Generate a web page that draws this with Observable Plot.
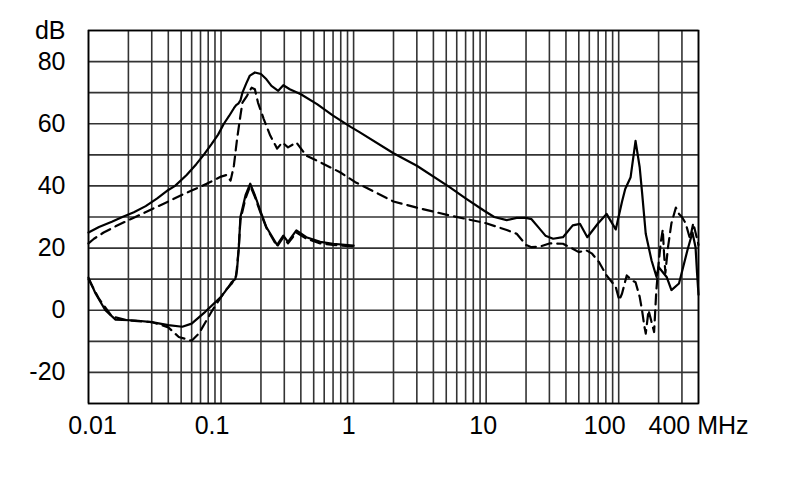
<!DOCTYPE html>
<html><head><meta charset="utf-8">
<script src="https://cdn.jsdelivr.net/npm/d3@7"></script>
<script src="https://cdn.jsdelivr.net/npm/@observablehq/plot@0.6"></script>
<style>body{margin:0;background:#fff} svg{display:block}</style>
</head><body><div id="chart"></div>
<script>
// Upper solid curve
const upperSolidFreq = [0.01,0.012,0.015,0.018,0.022,0.027,0.033,0.04,0.045,0.055,0.065,0.074,0.085,0.095,0.105,0.115,0.125,0.13,0.135,0.14,0.145,0.155,0.165,0.18,0.2,0.22,0.24,0.27,0.295,0.33,0.4,0.53,0.7,0.95,1.1,2,3,5.3,7,9.6,11.5,14.3,17,20,22,25,28,32,38,45,51,58,70,81,95,106,112,123,134,144,150,160,177,193,200,230,250,285,330,360,380,390,400];
const upperSolidDb   = [25,26.8,28.5,30,31.5,33.5,36,38.7,40,43.5,47,50,53.5,56.5,60,62.5,65,66,66.5,67.5,70,73,75.5,76.5,76,74.3,72.2,70.6,72.4,71.1,69.5,66.3,62.6,59,57.4,50.5,46.5,39.6,36,32.1,30,29,29.7,29.7,29.3,26.5,24,23,23.5,27.3,27.8,23.5,28,31,26,35,39,42.8,54.5,46,38,24.6,16,10.7,13.9,10.7,6.5,8.6,19.3,25,20.3,12,5];
// Upper dashed curve
const upperDashedFreq = [0.01,0.011,0.013,0.016,0.02,0.0226,0.03,0.04,0.05,0.06,0.072,0.085,0.1,0.11,0.118,0.125,0.132,0.14,0.145,0.157,0.17,0.18,0.19,0.21,0.235,0.265,0.29,0.32,0.37,0.44,0.56,0.79,1.03,2,3,5.3,10,14.3,17,20,22,25.6,30,38,45,50,57,63,71,81,95,101,106,115,126,134,144,150,156,160,168,175,185,192,200,208,215,220,225,235,250,270,285,300,320,345,365,385,400];
const upperDashedDb   = [21.5,23,25,27,29,30,32.5,35,37,38.5,40,41.5,43,43.5,41.7,46.5,55,62.6,66.8,69,71.6,71.1,66.8,61.5,56.2,52,54,52.4,54,49.7,47.6,44.4,41.2,35,33,30.5,28,25.8,24.6,21,20.3,20.5,21.5,21.4,19.8,18.7,19.3,18.2,15.5,11.2,7.5,3.2,5.4,11.2,9.6,9,4.3,0,-5,-7.5,0,-3,-7,6,15,22,26,18,12,20,28,33,31,30,28,23,28,24,21];
// Lower solid curve
const lowerSolidFreq = [0.01,0.0113,0.0134,0.016,0.0226,0.03,0.04,0.051,0.06,0.076,0.1,0.114,0.12,0.128,0.132,0.136,0.14,0.153,0.166,0.18,0.198,0.22,0.265,0.295,0.32,0.37,0.44,0.56,0.7,1];
const lowerSolidDb   = [10.5,5.4,0,-3,-3.3,-3.8,-4.8,-5.3,-4.3,-0.5,4.3,7.5,9,10,13,20,30,37,40.7,37,32,26.7,21,24,22,25.7,23.5,22,21.4,20.8];
// Lower dashed curve
const lowerDashedFreq = [0.01,0.012,0.015,0.02,0.03,0.04,0.048,0.06,0.068,0.086,0.108,0.12,0.13,0.136,0.14,0.153,0.166,0.18,0.198,0.22,0.265,0.295,0.32,0.37,0.44,0.56,0.7,1];
const lowerDashedDb   = [10,3.7,-2,-3.3,-3.8,-5.5,-8.6,-9.8,-7.5,0,6.4,8.5,11,20,29,36,40,36.5,31.5,26.5,20.5,23.5,21.5,25,23,21.5,21,20.5];

// Grid and ticks
const gridFreqs = [0.01,0.02,0.03,0.04,0.05,0.06,0.07,0.08,0.09,0.1,0.2,0.3,0.4,0.5,0.6,0.7,0.8,0.9,1,2,3,4,5,6,7,8,9,10,20,30,40,50,60,70,80,90,100,200,300,400];
const gridDb = [-30,-20,-10,0,10,20,30,40,50,60,70,80,90];
const xTicks = [0.01,0.1,1,10,100,400];
const xTickLabels = ["0.01","0.1","1","10","100","400 MHz"];
const yTicks = [-20,0,20,40,60,80,90];
const yTickLabels = ["-20","0","20","40","60","80","dB"];

const toRows = (fs, ds) => fs.map((f, i) => ({f, db: ds[i]}));
const lineStyle = {x: "f", y: "db", stroke: "#000", strokeWidth: 2.2, curve: "linear"};
const dashStyle = {...lineStyle, strokeDasharray: "10,6"};
// horizontal nudges of the x tick labels, as placed in the original figure
const labelNudge = [4, -9, -5, -3, -14, 0];

const chart = Plot.plot({
  width: 790, height: 499,
  marginLeft: 88, marginRight: 92, marginTop: 30, marginBottom: 96,
  style: {fontFamily: "'Liberation Sans', Arial, sans-serif", fontSize: "25px", background: "#fff", color: "#000"},
  x: {type: "log", domain: [0.01, 400], axis: null},
  y: {domain: [-30, 90]},
  marks: [
    Plot.ruleX(gridFreqs, {stroke: "#333", strokeWidth: 1.6}),
    Plot.ruleY(gridDb, {stroke: "#333", strokeWidth: 1.6}),
    Plot.frame({stroke: "#000", strokeWidth: 1.6}),
    Plot.line(toRows(upperSolidFreq, upperSolidDb), lineStyle),
    Plot.line(toRows(upperDashedFreq, upperDashedDb), dashStyle),
    Plot.line(toRows(lowerSolidFreq, lowerSolidDb), lineStyle),
    Plot.line(toRows(lowerDashedFreq, lowerDashedDb), dashStyle),
    ...xTicks.map((t, i) => Plot.text([t], {x: d => d, text: () => xTickLabels[i], frameAnchor: "bottom", dy: 22, dx: labelNudge[i], lineAnchor: "middle", fontSize: 25, fill: "#000"})),
    Plot.axisY({ticks: yTicks, tickFormat: d => yTickLabels[yTicks.indexOf(d)], tickSize: 0, tickPadding: 23, fontSize: 25, label: null})
  ]
});
document.getElementById("chart").appendChild(chart);
</script>
</body></html>
